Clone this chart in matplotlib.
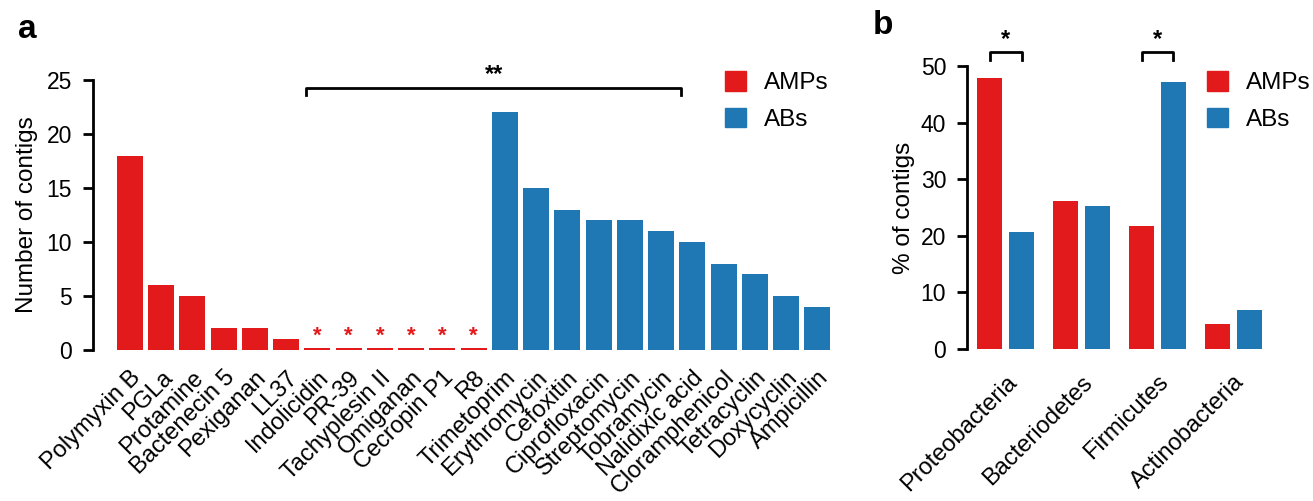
import matplotlib
matplotlib.use("Agg")
import matplotlib.pyplot as plt
from matplotlib.patches import Patch
import numpy as np

plt.rcParams['font.family'] = ['Liberation Sans', 'DejaVu Sans']

# ---------------- data ----------------
amp_names = ["Polymyxin B", "PGLa", "Protamine", "Bactenecin 5", "Pexiganan", "LL37",
             "Indolicidin", "PR-39", "Tachyplesin II", "Omiganan", "Cecropin P1", "R8"]
amp_counts = [18, 6, 5, 2, 2, 1, 0, 0, 0, 0, 0, 0]
ab_names = ["Trimetoprim", "Erythromycin", "Cefoxitin", "Ciprofloxacin", "Streptomycin",
            "Tobramycin", "Nalidixic acid", "Cloramphenicol", "Tetracyclin", "Doxycyclin",
            "Ampicillin"]
ab_counts = [22, 15, 13, 12, 12, 11, 10, 8, 7, 5, 4]

phyla = ["Proteobacteria", "Bacteriodetes", "Firmicutes", "Actinobacteria"]
amp_pct = [47.8, 26.1, 21.7, 4.4]
ab_pct = [20.7, 25.3, 47.2, 6.9]

RED = "#E31A1C"
BLUE = "#1F78B4"
TICK_FS = 16.5
LAB_FS = 17.5
XT_FS = 17

fig = plt.figure(figsize=(13.13, 5.01), dpi=100)

# ---------------- panel a ----------------
axa = fig.add_axes([93/1313, 1-350/501, 740/1313, 270/501])
names = amp_names + ab_names
n_amp = len(amp_names)
x = np.arange(len(names))
zero_stub = 0.2
heights = [c if c > 0 else zero_stub for c in amp_counts] + list(ab_counts)
colors = [RED]*n_amp + [BLUE]*len(ab_names)
axa.bar(x, heights, width=0.83, color=colors, linewidth=0)
for i, c in enumerate(amp_counts):
    if c == 0:
        axa.text(i, 0.35, "*", color=RED, ha="center", va="bottom", fontsize=16, fontweight="bold")
axa.set_xlim(-1.18, len(names) - 0.5)
axa.set_ylim(0, 25)
axa.set_yticks([0, 5, 10, 15, 20, 25])
axa.set_xticks(x)
axa.set_xticklabels(names, rotation=45, ha="right", rotation_mode="anchor", fontsize=XT_FS)
axa.tick_params(axis="x", length=0, pad=12)
axa.tick_params(axis="y", labelsize=TICK_FS, length=7, width=2, pad=8)
axa.set_ylabel("Number of contigs", fontsize=LAB_FS, labelpad=6)
for s in ["top", "right", "bottom"]:
    axa.spines[s].set_visible(False)
axa.spines["left"].set_linewidth(2)
# bracket
bx0, bx1, by, bt = 5.65, 17.65, 24.3, 23.6
axa.plot([bx0, bx0, bx1, bx1], [bt, by, by, bt], color="black", lw=2, clip_on=False)
axa.text((bx0+bx1)/2, 24.45, "**", ha="center", va="bottom", fontsize=17, fontweight="bold")
axa.legend(handles=[Patch(color=RED, label="AMPs"), Patch(color=BLUE, label="ABs")],
           loc="upper left", bbox_to_anchor=(620/740, 1.077), frameon=False, fontsize=LAB_FS,
           handlelength=0.85, handleheight=0.85, handletextpad=0.75, labelspacing=0.55,
           borderpad=0)
fig.text(18/1313, 1-30/501, "a", fontsize=24, fontweight="bold", va="center", ha="left")

# ---------------- panel b ----------------
axb = fig.add_axes([967/1313, 1-349/501, 312/1313, 283/501])
g = np.arange(len(phyla))
off = 0.21
w = 0.33
axb.bar(g - off, amp_pct, width=w, color=RED, linewidth=0)
axb.bar(g + off, ab_pct, width=w, color=BLUE, linewidth=0)
axb.set_xlim(-0.51, 3.6)
axb.set_ylim(0, 50)
axb.set_yticks([0, 10, 20, 30, 40, 50])
axb.set_xticks(g)
axb.set_xticklabels(phyla, rotation=45, ha="right", rotation_mode="anchor", fontsize=XT_FS)
axb.tick_params(axis="x", length=0, pad=16)
axb.tick_params(axis="y", labelsize=TICK_FS, length=7, width=2, pad=8)
axb.set_ylabel("% of contigs", fontsize=LAB_FS, labelpad=4)
for s in ["top", "right", "bottom"]:
    axb.spines[s].set_visible(False)
axb.spines["left"].set_linewidth(2)
for gi in [0, 2]:
    x0, x1 = gi - off, gi + off
    axb.plot([x0, x0, x1, x1], [51.1, 52.5, 52.5, 51.1], color="black", lw=2, clip_on=False)
    axb.text(gi, 52.6, "*", ha="center", va="bottom", fontsize=17, fontweight="bold")
axb.legend(handles=[Patch(color=RED, label="AMPs"), Patch(color=BLUE, label="ABs")],
           loc="upper left", bbox_to_anchor=(228/312, 1.024), frameon=False, fontsize=LAB_FS,
           handlelength=0.85, handleheight=0.85, handletextpad=0.75, labelspacing=0.55,
           borderpad=0)
fig.text(873/1313, 1-25/501, "b", fontsize=24, fontweight="bold", va="center", ha="left")

fig.savefig("out.png", dpi=100)
